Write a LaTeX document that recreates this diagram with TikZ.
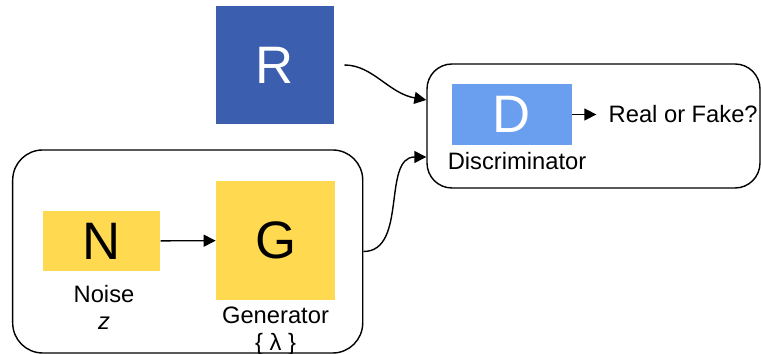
\documentclass[tikz,border=0pt]{standalone}
\usepackage{fontspec}
\setmainfont{Liberation Sans}
\usepackage{xcolor}
\definecolor{realblue}{HTML}{3C5EAE}
\definecolor{discblue}{HTML}{6A9EEE}
\definecolor{genyellow}{HTML}{FFD94F}
\usepackage{tikz}
\usetikzlibrary{positioning,arrows.meta}

\begin{document}
\begin{tikzpicture}[
  group/.style={draw=black, line width=0.8pt, rounded corners=0.6cm},
  block/.style={inner sep=0pt, font=\fontsize{30}{32}\selectfont},
  lbl/.style={inner sep=0pt, align=center, font=\fontsize{13.5}{15}\selectfont},
  arr/.style={-{Triangle[length=6.8pt,width=6.8pt]}, line width=0.8pt}
]
  \useasboundingbox (0,0) rectangle (15.22,7.08);

  \node[group, minimum width=7cm, minimum height=4.06cm] (genbox) at (3.754,2.05) {};
  \node[group, rounded corners=0.5cm, minimum width=6.66cm, minimum height=2.48cm] (discbox) at (11.87,4.56) {};

  \node[block, fill=realblue, text=white, minimum width=2.36cm, minimum height=2.36cm] (real) at (5.5,5.78) {R};
  \node[block, fill=genyellow, minimum width=2.35cm, minimum height=1.2cm] (noise) at (2.03,2.26) {N};
  \node[block, fill=genyellow, minimum width=2.38cm, minimum height=2.38cm] (gen) at (5.51,2.27) {G};
  \node[block, fill=discblue, text=white, minimum width=2.4cm, minimum height=1.22cm] (disc) at (10.24,4.79) {D};

  \node[lbl, below=0.28cm of noise, xshift=0.05cm] (noiselbl) {Noise\\\textit{z}};
  \node[lbl, below=0.13cm of gen] (genlbl) {Generator\\\{ λ \}};
  \node[lbl, below=0.13cm of disc, xshift=0.1cm] (disclbl) {Discriminator};
  \node[lbl, right=0.72cm of disc] (rf) {Real or Fake?};

  \coordinate (din1) at ([yshift=0.52cm]discbox.west);
  \coordinate (din2) at ([yshift=-0.62cm]discbox.west);

  \draw[arr] (noise) -- (gen);
  \draw[arr, shorten >=0.24cm] (disc) -- (rf);
  \draw[arr, shorten <=0.2cm] (real.east) to[out=0, in=170] (din1);
  \draw[arr] (genbox.east) to[out=0, in=180] (din2);
\end{tikzpicture}
\end{document}
